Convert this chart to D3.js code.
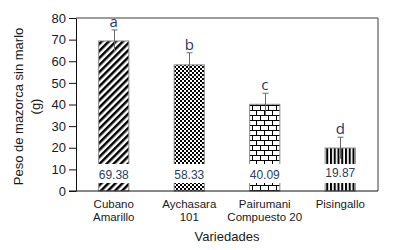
<!DOCTYPE html>
<html>
<head>
<meta charset="utf-8">
<script src="https://cdn.jsdelivr.net/npm/d3@7"></script>
<style>
  body { margin: 0; background: #fff; }
  text { font-family: "Liberation Sans", Arial, sans-serif; }
</style>
</head>
<body>
<script>
// data
let varieties = [['Cubano', 'Amarillo'], ['Aychasara', '101'], ['Pairumani', 'Compuesto 20'], ['Pisingallo']];
let means = [69.38, 58.33, 40.09, 19.87];
let errors = [5.1, 5.6, 5.1, 5.0];
let letters = ['a', 'b', 'c', 'd'];
let patterns = ['diag', 'checker', 'brick', 'vert'];
let yTicks = [0, 10, 20, 30, 40, 50, 60, 70, 80];

let width = 399, height = 250;
let margin = {top: 18, right: 21, bottom: 59, left: 76};

let svg = d3.select('body').append('svg')
    .attr('width', width)
    .attr('height', height);

// fill patterns
let defs = svg.append('defs');

let p1 = defs.append('pattern').attr('id', 'diag')
    .attr('patternUnits', 'userSpaceOnUse')
    .attr('width', 5).attr('height', 5)
    .attr('patternTransform', 'rotate(45)');
p1.append('rect').attr('width', 5).attr('height', 5).attr('fill', '#fff');
p1.append('rect').attr('width', 2.5).attr('height', 5).attr('fill', '#000');

let p2 = defs.append('pattern').attr('id', 'checker')
    .attr('patternUnits', 'userSpaceOnUse')
    .attr('width', 4).attr('height', 4);
p2.append('rect').attr('width', 4).attr('height', 4).attr('fill', '#fff');
p2.append('rect').attr('width', 2).attr('height', 2).attr('fill', '#000');
p2.append('rect').attr('x', 2).attr('y', 2).attr('width', 2).attr('height', 2).attr('fill', '#000');

let p3 = defs.append('pattern').attr('id', 'brick')
    .attr('patternUnits', 'userSpaceOnUse')
    .attr('width', 8).attr('height', 10);
p3.append('rect').attr('width', 8).attr('height', 10).attr('fill', '#fff');
p3.append('path')
    .attr('d', 'M0,0.5H8M0,5.5H8M0.5,0.5V5.5M4.5,5.5V10')
    .attr('stroke', '#000').attr('stroke-width', 1).attr('fill', 'none');

let p4 = defs.append('pattern').attr('id', 'vert')
    .attr('patternUnits', 'userSpaceOnUse')
    .attr('width', 3.75).attr('height', 4);
p4.append('rect').attr('width', 3.75).attr('height', 4).attr('fill', '#fff');
p4.append('rect').attr('width', 2).attr('height', 4).attr('fill', '#000');

let x = d3.scaleBand()
    .domain(d3.range(means.length))
    .range([margin.left, width - margin.right])
    .paddingInner(0.6)
    .paddingOuter(0.3);

let y = d3.scaleLinear()
    .domain([0, 80])
    .range([height - margin.bottom, margin.top]);

// frame top/right
svg.append('path')
    .attr('d', `M${margin.left},${margin.top}H${width - margin.right}V${height - margin.bottom}`)
    .attr('fill', 'none').attr('stroke', '#3a3a3a').attr('stroke-width', 1);

// bars
let bars = svg.selectAll('.bar').data(means).enter().append('g').attr('class', 'bar');

bars.append('rect')
    .attr('x', (d, i) => x(i))
    .attr('y', d => y(d))
    .attr('width', x.bandwidth())
    .attr('height', d => y(0) - y(d))
    .attr('fill', (d, i) => `url(#${patterns[i]})`)
    .attr('stroke', '#8a8a8a')
    .attr('stroke-width', 1);

// white box behind the value label
bars.append('rect')
    .attr('x', (d, i) => x(i) - 1.5)
    .attr('y', y(12.5))
    .attr('width', x.bandwidth() + 3)
    .attr('height', y(3.7) - y(12.5))
    .attr('fill', '#fff');

bars.append('text')
    .attr('x', (d, i) => x(i) + x.bandwidth() / 2)
    .attr('y', (d, i) => i === 3 ? y(8.6) : y(7.6))
    .attr('text-anchor', 'middle')
    .attr('dy', '0.35em')
    .style('font-size', '12px')
    .style('fill', '#2b3f5e')
    .text(d => d.toFixed(2));

// error bars (upper cap only)
bars.append('path')
    .attr('d', (d, i) => {
        let cx = Math.round(x(i) + x.bandwidth() / 2) + 0.5;
        return `M${cx},${y(d - errors[i])}V${y(d + errors[i])}M${cx - 3},${y(d + errors[i])}H${cx + 3}`;
    })
    .attr('fill', 'none').attr('stroke', '#6a6a6a').attr('stroke-width', 1);

bars.append('text')
    .attr('x', (d, i) => x(i) + x.bandwidth() / 2)
    .attr('y', (d, i) => y(d + errors[i]) - 3)
    .attr('text-anchor', 'middle')
    .style('font-family', '"Open Sans", sans-serif')
    .style('font-size', '15px')
    .style('fill', '#1f3766')
    .text((d, i) => letters[i]);

// axes
let yAxis = svg.append('g')
    .attr('transform', `translate(${margin.left},0)`)
    .call(d3.axisLeft(y).tickValues(yTicks).tickSize(7).tickSizeOuter(0).tickPadding(3));
yAxis.selectAll('text').style('font-size', '13px').style('fill', '#1a1a1a').style('font-family', '"Liberation Sans", Arial, sans-serif');
yAxis.selectAll('line, path').attr('stroke', '#111');

svg.append('line')
    .attr('x1', margin.left - 7).attr('x2', width - margin.right)
    .attr('y1', y(0)).attr('y2', y(0))
    .attr('stroke', '#111');

// category labels
let cat = svg.selectAll('.cat').data(varieties).enter().append('text')
    .attr('class', 'cat')
    .attr('text-anchor', 'middle')
    .style('font-size', '11.5px')
    .style('fill', '#1a1a1a');
cat.selectAll('tspan').data((d, i) => d.map(t => ({t: t, i: i}))).enter().append('tspan')
    .attr('x', d => x(d.i) + x.bandwidth() / 2)
    .attr('y', (d, j) => 208 + j * 13)
    .text(d => d.t);

svg.append('text')
    .attr('x', (margin.left + width - margin.right) / 2)
    .attr('y', 241)
    .attr('text-anchor', 'middle')
    .style('font-size', '13px')
    .style('fill', '#1a1a1a')
    .text('Variedades');

let yTitle = svg.append('text')
    .attr('transform', `translate(0,${(margin.top + height - margin.bottom) / 2 + 2}) rotate(-90)`)
    .attr('text-anchor', 'middle')
    .style('font-size', '13px')
    .style('fill', '#1a1a1a');
yTitle.append('tspan').attr('x', 0).attr('y', 23).text('Peso de mazorca sin marlo');
yTitle.append('tspan').attr('x', 0).attr('y', 40).text('(g)');
</script>
</body>
</html>
